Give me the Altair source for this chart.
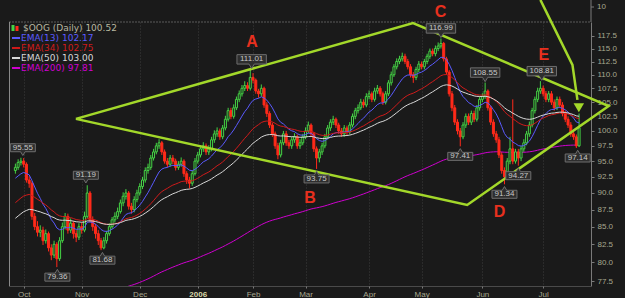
import altair as alt
import pandas as pd

# ---------------- data ----------------
CLOSE = [94.0,94.8,95.0,94.5,92.0,91.5,86.5,85.0,84.2,84.5,
 83.0,84.0,82.0,81.0,82.5,80.5,83.0,85.0,86.5,84.5,
 85.5,84.0,83.5,85.0,84.5,86.5,90.0,86.0,85.0,84.0,
 83.0,82.0,83.0,84.0,85.0,86.0,86.5,87.2,88.5,89.5,
 90.0,88.0,87.5,89.0,90.0,91.0,92.0,93.5,94.0,95.5,
 96.5,97.5,98.0,96.5,95.0,94.5,95.5,95.0,94.0,94.5,
 95.0,93.0,92.0,91.5,93.0,95.0,96.0,97.0,97.5,96.5,
 97.0,98.5,99.5,100.0,99.0,100.5,102.0,103.5,102.5,104.0,
 105.5,106.5,107.5,108.0,107.5,109.5,109.0,107.0,106.5,107.5,
 104.5,103.0,101.0,99.5,97.5,96.0,98.0,99.5,98.0,97.5,
 98.5,99.0,97.5,98.0,99.0,100.0,101.0,99.5,97.0,95.5,
 96.5,97.5,99.0,100.5,101.5,102.0,101.0,100.0,99.5,100.5,
 99.8,101.0,102.5,103.5,104.0,105.0,104.5,106.0,106.5,105.5,
 107.0,107.5,106.5,105.0,106.5,108.5,110.0,111.5,112.5,113.0,
 113.5,112.5,111.5,110.0,109.5,111.0,112.0,111.5,112.5,113.5,
 114.5,114.0,115.0,115.5,116.0,113.0,110.5,106.5,104.0,101.5,
 100.0,99.0,101.0,102.5,101.5,103.0,102.0,104.0,105.5,106.0,
 107.0,104.0,101.5,99.5,98.5,96.0,93.5,92.5,95.0,97.0,
 95.0,96.5,95.5,97.0,98.0,99.5,101.0,103.5,105.5,107.0,
 107.5,106.5,105.5,106.5,105.0,104.0,105.5,104.5,103.0,102.0,
 101.0,99.5,99.0,97.5,100.52]

HIGH = [94.6,95.3,95.55,95.5,94.8,92.6,91.8,87.0,85.8,85.2,
 85.0,84.6,84.3,82.5,83.0,82.8,83.5,85.6,87.0,86.9,
 86.2,85.8,84.5,85.5,85.6,87.2,91.19,90.3,86.5,85.4,
 84.5,83.4,83.5,84.4,85.5,86.4,87.1,87.8,89.0,90.1,
 90.6,90.3,88.5,89.5,90.5,91.5,92.5,94.0,94.6,96.0,
 97.0,98.0,98.6,98.3,96.9,95.5,96.0,96.0,95.4,95.0,
 95.6,95.3,93.4,92.5,93.5,95.5,96.5,97.6,98.1,97.9,
 97.6,99.0,100.1,100.6,100.4,101.0,102.6,104.0,104.0,104.6,
 106.0,107.1,108.1,108.8,108.6,111.01,110.3,109.3,107.4,108.2,
 107.8,105.0,103.4,101.4,99.9,98.0,98.5,100.0,100.0,98.5,
 99.0,99.6,99.4,98.6,99.5,100.6,101.6,101.3,99.8,97.4,
 97.0,98.0,99.5,101.0,102.0,102.6,102.3,101.4,100.5,101.0,
 100.9,101.5,103.0,104.0,104.6,105.6,105.5,106.6,107.1,106.9,
 107.6,108.1,107.9,106.9,107.0,109.0,110.6,112.0,113.1,113.6,
 114.2,114.0,113.0,112.0,110.5,111.5,112.6,112.5,113.0,114.0,
 115.0,115.0,115.6,116.2,116.99,116.3,113.4,110.9,107.0,104.5,
 102.0,100.5,101.5,103.0,103.0,103.5,103.5,104.5,106.0,106.6,
 108.55,107.3,104.4,102.0,100.0,99.0,96.5,94.0,95.5,99.0,
 105.5,97.0,97.0,97.5,98.6,100.0,101.6,104.0,106.0,107.6,
 108.81,108.0,107.0,107.0,107.0,105.5,106.0,106.0,105.0,103.5,
 102.5,101.5,100.0,99.4,103.0]

LOW = [93.0,93.6,94.3,94.0,91.6,90.8,86.0,84.5,83.6,83.5,
 82.4,82.6,81.5,80.3,80.6,79.36,80.2,82.7,84.6,84.0,
 84.1,83.3,82.8,83.1,84.0,84.2,86.2,85.6,84.4,83.3,
 82.4,81.68,81.8,82.6,83.7,84.7,85.6,86.1,86.9,88.0,
 89.0,87.5,86.9,87.1,88.6,89.6,90.6,91.6,93.0,93.6,
 95.1,96.1,97.0,96.0,94.6,94.0,94.1,94.5,93.5,93.6,
 94.1,92.5,91.4,90.7,91.1,92.7,94.6,95.6,96.5,96.0,
 96.0,96.6,98.0,99.0,98.5,98.6,100.1,101.6,102.0,102.1,
 103.6,105.0,106.0,107.0,107.0,107.1,108.4,106.5,105.8,106.0,
 104.0,102.4,100.5,99.0,97.0,95.3,95.6,97.6,97.5,97.0,
 97.0,98.0,97.0,97.0,97.6,98.6,99.6,99.0,96.5,93.75,
 94.8,96.0,97.1,98.6,100.0,101.0,100.5,99.5,99.0,99.0,
 99.3,99.4,100.6,102.0,103.0,103.6,104.0,104.1,105.5,105.0,
 105.1,106.5,106.0,104.5,104.6,106.1,108.0,109.6,111.0,112.0,
 112.5,112.0,111.0,109.5,108.5,109.0,110.5,111.0,111.0,112.0,
 113.0,113.5,113.5,114.5,115.0,112.5,110.0,106.0,103.4,101.0,
 99.4,97.41,98.6,100.5,101.0,101.0,101.5,101.6,103.5,105.0,
 105.6,103.5,101.0,99.0,98.0,95.5,93.0,91.34,92.0,94.5,
 94.5,94.6,94.27,95.0,96.5,97.6,99.0,100.6,103.0,105.0,
 106.5,106.0,105.0,105.0,104.5,103.5,103.6,104.0,102.5,101.5,
 100.5,99.0,98.5,97.14,97.3]

FIRST_OPEN = 93.5

EMA_SPANS = [13, 34, 50, 200]
EMA_SEEDS = [92.0, 88.2, 85.9, 72.0]

MONTH_IDX = [3, 24, 45, 66, 86, 105, 128, 147, 169, 191]
MONTH_LBL = ["Oct", "Nov", "Dec", "2006", "Feb", "Mar", "Apr", "May", "Jun", "Jul"]
Y_TICKS = [77.5, 80.0, 82.5, 85.0, 87.5, 90.0, 92.5, 95.0, 97.5, 100.0,
           102.5, 105.0, 107.5, 110.0, 112.5, 115.0, 117.5]

LBL_IDX = [2.7, 15.2, 25.5, 31.5, 85.5, 109, 154, 161, 170, 177, 182, 190.5, 203.5]
LBL_VAL = [95.55, 79.36, 91.19, 81.68, 111.01, 93.75, 116.99, 97.41, 108.55, 91.34, 94.27, 108.81, 97.14]
LBL_KIND = ["hi", "lo", "hi", "lo", "hi", "lo", "hi", "lo", "hi", "lo", "lo", "hi", "lo"]

LETTERS = ["A", "B", "C", "D", "E"]
LETTER_IDX = [85.6, 106.6, 153.9, 175.2, 191.2]
LETTER_VAL = [116.3, 89.2, 122.4, 87.1, 113.8]

# drawn trend lines (index, price)
DIAMOND_IDX = [21.9, 143.9, 214.7, 163.5, 21.9]
DIAMOND_VAL = [102.06, 120.1, 104.3, 88.2, 102.06]
ARROW_IDX = [190.0, 201.6, 203.4]
ARROW_VAL = [124.9, 111.85, 105.4]
ARROW_TIP_IDX = [203.9]
ARROW_TIP_VAL = [104.0]

LEGEND = ["$OOG (Daily) 100.52", "EMA(13) 102.17", "EMA(34) 102.75", "EMA(50) 103.00", "EMA(200) 97.81"]

# ---------------- styles ----------------
BG = "#1a1a1a"
GREEN = "#45d245"
RED = "#ff2a1a"
LIME = "#a3d82a"
LETTER_RED = "#e8301e"
AX = "#7a7a7a"
AXTXT = "#a8a890"
EMA_COLORS = ["#5a5aff", "#d01a1a", "#d8d8d8", "#d000d0"]
W, H = 582, 264

assert len(CLOSE) == len(HIGH) == len(LOW)
n = len(CLOSE)
OPEN = [FIRST_OPEN] + CLOSE[:-1]


def ema(vals, span, seed):
    a = 2.0 / (span + 1)
    e = seed
    out = []
    for v in vals:
        e += a * (v - e)
        out.append(e)
    return out


df = pd.DataFrame({"idx": list(range(n)), "open": OPEN, "high": HIGH, "low": LOW, "close": CLOSE})
for s, seed in zip(EMA_SPANS, EMA_SEEDS):
    df[f"ema{s}"] = ema(CLOSE, s, seed)

xs = alt.Scale(domain=[-0.5, 206.5], nice=False, zero=False)
ys = alt.Scale(type="log", domain=[76.86, 120.3], nice=False, zero=False)

label_expr = " : ".join(f"datum.value == {i} ? '{l}'" for i, l in zip(MONTH_IDX, MONTH_LBL)) + " : ''"
yr_idx = MONTH_IDX[MONTH_LBL.index("2006")]

xaxis = alt.Axis(values=MONTH_IDX, labelExpr=label_expr, title=None, grid=True,
                 gridColor="#3c3c3c", gridDash=[1, 2], domainColor=AX, domainDash=[1, 1],
                 tickColor=AX, tickSize=2,
                 labelColor={"condition": {"test": f"datum.value === {yr_idx}", "value": "#d8d8a8"}, "value": AXTXT},
                 labelFontWeight={"condition": {"test": f"datum.value === {yr_idx}", "value": "bold"}, "value": "normal"},
                 labelFont="Liberation Sans", labelFontSize=8, labelPadding=2)
yaxis = alt.Axis(orient="right", values=Y_TICKS, format=".1f", title=None, grid=False,
                 domainColor=AX, tickColor=AX, tickSize=3, labelColor=AXTXT,
                 labelFont="Liberation Sans", labelFontSize=8, labelPadding=3)


def X(f):
    return alt.X(f, scale=xs, axis=xaxis, title=None)


def Y(f):
    return alt.Y(f, scale=ys, axis=yaxis, title=None)


up = "datum.close >= datum.open"

wicks = alt.Chart(df).mark_rule(strokeWidth=1).encode(
    x=X("idx:Q"), y=Y("low:Q"), y2="high:Q",
    color=alt.condition(up, alt.value(GREEN), alt.value(RED)),
)
bodies = alt.Chart(df).mark_bar(size=2, strokeWidth=1).encode(
    x=X("idx:Q"), y=Y("open:Q"), y2="close:Q",
    fill=alt.condition(up, alt.value(BG), alt.value(RED)),
    stroke=alt.condition(up, alt.value(GREEN), alt.value(RED)),
)

ema_layers = []
for s, c in zip(EMA_SPANS, EMA_COLORS):
    ema_layers.append(alt.Chart(df).mark_line(color=c, strokeWidth=1, clip=True).encode(
        x=X("idx:Q"), y=Y(f"ema{s}:Q")))
ema200 = ema_layers[3]
ema_front = ema_layers[:3]

dia = pd.DataFrame({"i": DIAMOND_IDX, "v": DIAMOND_VAL, "o": list(range(len(DIAMOND_IDX)))})
arr = pd.DataFrame({"i": ARROW_IDX, "v": ARROW_VAL, "o": list(range(len(ARROW_IDX)))})
tip = pd.DataFrame({"i": ARROW_TIP_IDX, "v": ARROW_TIP_VAL})


def tl(d):
    return alt.Chart(d).mark_line(color=LIME, strokeWidth=2.5, strokeJoin="miter").encode(
        x=X("i:Q"), y=Y("v:Q"), order="o:Q")


diamond = tl(dia)
arrow = tl(arr)
arrow_head = alt.Chart(tip).mark_point(shape="triangle-down", filled=True, size=110, color=LIME, opacity=1).encode(
    x=X("i:Q"), y=Y("v:Q"))

letters = alt.Chart(pd.DataFrame({"t": LETTERS, "i": LETTER_IDX, "v": LETTER_VAL})).mark_text(
    font="Liberation Sans", fontWeight="bold", fontSize=16, color=LETTER_RED).encode(
    x=X("i:Q"), y=Y("v:Q"), text="t:N")

lbl = pd.DataFrame({"i": LBL_IDX, "v": LBL_VAL, "kind": LBL_KIND, "t": [f"{v:.2f}" for v in LBL_VAL]})
HI_PATH = "M-1,-0.32L1,-0.32L1,0.32L0.18,0.32L0,0.62L-0.18,0.32L-1,0.32Z"
LO_PATH = "M-1,0.32L1,0.32L1,-0.32L0.18,-0.32L0,-0.62L-0.18,-0.32L-1,-0.32Z"


def price_labels(kind, path, off):
    base = alt.Chart(lbl).transform_filter(f"datum.kind == '{kind}'").transform_calculate(
        sz="pow(length(datum.t) * 4.4 + 3, 2)")
    box = base.mark_point(shape=path, filled=True, fill="#2e2e2e", stroke="#6e6e6e",
                          strokeWidth=1, opacity=1, yOffset=off).encode(
        x=X("i:Q"), y=Y("v:Q"), size=alt.Size("sz:Q", scale=None, legend=None))
    txt = base.mark_text(font="Liberation Sans", fontSize=8, color="#c8c8c8", yOffset=off).encode(
        x=X("i:Q"), y=Y("v:Q"), text="t:N")
    return [box, txt]


one = pd.DataFrame({"a": [0]})
frame = [
    alt.Chart(one).mark_rule(color="#5a5a5a", strokeDash=[2, 1]).encode(x=alt.value(0), x2=alt.value(W), y=alt.value(0)),
    alt.Chart(one).mark_rule(color="#8a8a8a").encode(x=alt.value(0.5), y=alt.value(0), y2=alt.value(H)),
    alt.Chart(one).mark_rule(color=AX).encode(x=alt.value(W), y=alt.value(-22), y2=alt.value(0)),
    alt.Chart(one).mark_rule(color=AX).encode(x=alt.value(W), x2=alt.value(W + 3), y=alt.value(-15)),
    alt.Chart(one).mark_text(align="left", baseline="middle", font="Liberation Sans", fontSize=8,
                             color=AXTXT).encode(x=alt.value(W + 6), y=alt.value(-15), text=alt.value("10")),
]

leg_colors = ["#b8b8a0"] + EMA_COLORS
leg_layers = []
for k, (t, c) in enumerate(zip(LEGEND, leg_colors)):
    yy = 6 + 10 * k
    if k == 0:
        leg_layers.append(alt.Chart(one).mark_rule(color=GREEN, strokeWidth=3).encode(
            x=alt.value(4), y=alt.value(yy - 3), y2=alt.value(yy + 3)))
        leg_layers.append(alt.Chart(one).mark_rule(color=RED, strokeWidth=3).encode(
            x=alt.value(8), y=alt.value(yy - 2), y2=alt.value(yy + 3)))
        tx = 14
    else:
        leg_layers.append(alt.Chart(one).mark_rule(color=c, strokeWidth=2).encode(
            x=alt.value(3), x2=alt.value(11), y=alt.value(yy)))
        tx = 12
    leg_layers.append(alt.Chart(one).mark_text(align="left", baseline="middle", font="DejaVu Sans",
                                               fontSize=9, color=c).encode(
        x=alt.value(tx), y=alt.value(yy), text=alt.value(t)))

layers = [wicks, ema200, bodies] + ema_front + frame + [diamond, arrow, arrow_head, letters] \
    + price_labels("hi", HI_PATH, -10) + price_labels("lo", LO_PATH, 10) + leg_layers

chart = alt.layer(*layers).properties(
    width=W, height=H, background=BG,
    padding={"left": 9, "top": 22, "right": 34, "bottom": 12},
    autosize=alt.AutoSizeParams(type="none"),
).configure_view(stroke=None)

chart.save("out.html", embed_options={"renderer": "svg", "actions": False})
